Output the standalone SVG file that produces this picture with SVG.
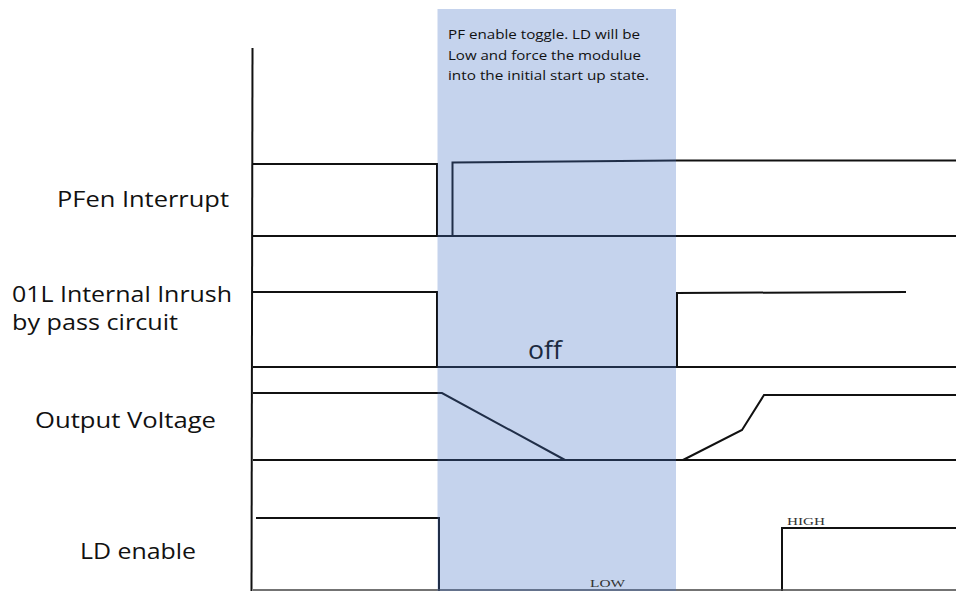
<svg xmlns="http://www.w3.org/2000/svg" width="956" height="591" viewBox="0 0 956 591">
  <style>
    .sig { fill: none; stroke: #111; stroke-width: 2; stroke-linejoin: miter; }
    .thin { fill: none; stroke: #444; stroke-width: 1.5; }
    .lbl { font-family: "Open Sans", "Noto Sans", sans-serif; font-size: 22px; fill: #111; }
    .note { font-family: "Open Sans", "Noto Sans", sans-serif; font-size: 13px; fill: #111; }
    .tiny { font-family: "Liberation Serif", serif; font-size: 10px; fill: #333; }
  </style>
  <rect x="0" y="0" width="956" height="591" fill="#ffffff"/>

  <g id="labels">
    <text class="lbl" x="57" y="207" textLength="172" lengthAdjust="spacingAndGlyphs">PFen Interrupt</text>
    <text class="lbl" x="12" y="302" textLength="220" lengthAdjust="spacingAndGlyphs">01L Internal Inrush</text>
    <text class="lbl" x="12" y="330" textLength="166" lengthAdjust="spacingAndGlyphs">by pass circuit</text>
    <text class="lbl" x="35" y="428" textLength="181" lengthAdjust="spacingAndGlyphs">Output Voltage</text>
    <text class="lbl" x="80" y="559" textLength="116" lengthAdjust="spacingAndGlyphs">LD enable</text>
  </g>

  <g id="connectors">
    <g id="axis">
      <line class="sig" x1="252.5" y1="48" x2="251.5" y2="591"/>
    </g>
    <g id="pfen">
      <polyline class="sig" points="253,164 437,164 437,236"/>
      <line class="sig" x1="253" y1="236" x2="956" y2="236"/>
      <polyline class="sig" points="452.5,236 452.5,162.5 676,160.5 956,160.5"/>
    </g>
    <g id="inrush">
      <polyline class="sig" points="253,292 437,292 437,367"/>
      <line class="sig" x1="253" y1="367" x2="956" y2="367"/>
      <polyline class="sig" points="677,367 677,293 906,292"/>
    </g>
    <g id="vout">
      <polyline class="sig" points="253,393 442,393 565,460"/>
      <line class="sig" x1="253" y1="460" x2="956" y2="460"/>
      <polyline class="sig" points="683,460 742,430 764,395 956,395"/>
    </g>
    <g id="ld">
      <polyline class="sig" points="256,518 439,518 439,591"/>
      <polyline class="sig" points="782,591 782,528 956,528"/>
      <line class="thin" x1="253" y1="590" x2="956" y2="590"/>
    </g>
  </g>

  <g id="toggle-window">
    <rect x="437.5" y="9" width="238.5" height="582" fill="#4472c4" fill-opacity="0.31"/>
    <text x="528" y="359" font-family="'Open Sans', 'Noto Sans', sans-serif" font-size="25" fill="#1c2a40" textLength="34" lengthAdjust="spacingAndGlyphs">off</text>
    <text class="note" x="448" y="39" textLength="192" lengthAdjust="spacingAndGlyphs">PF enable toggle. LD will be</text>
    <text class="note" x="448" y="60" textLength="193" lengthAdjust="spacingAndGlyphs">Low and force the modulue</text>
    <text class="note" x="448" y="80" textLength="201" lengthAdjust="spacingAndGlyphs">into the initial start up state.</text>
    <text class="tiny" x="590" y="587" fill="#2a3a55" textLength="35" lengthAdjust="spacingAndGlyphs">LOW</text>
  </g>

  <g id="high-label">
    <text class="tiny" x="787" y="525" textLength="38" lengthAdjust="spacingAndGlyphs">HIGH</text>
  </g>
</svg>
